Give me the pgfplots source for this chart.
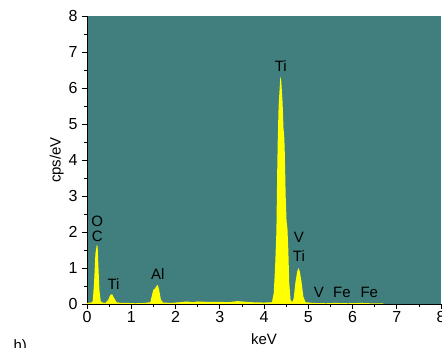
\documentclass[border=0pt]{standalone}
\usepackage{pgfplots}
\pgfplotsset{compat=1.18}
\usepackage{fontspec}
\setmainfont{Liberation Sans}
\definecolor{bgteal}{RGB}{64,127,125}
\definecolor{spec}{RGB}{255,255,0}
\begin{document}
\begin{tikzpicture}[x=1pt,y=1pt]
\begin{axis}[
  at={(0,0)}, anchor=origin,
  scale only axis, width=354pt, height=288pt,
  xmin=0, xmax=8, ymin=0, ymax=8,
  axis x line*=bottom, axis y line*=left,
  axis line style={black, -},
  axis background/.style={fill=bgteal},
  xtick={0,1,...,8}, ytick={0,1,...,8},
  minor x tick num=1, minor y tick num=1,
  tick align=outside,
  major tick length=5pt, minor tick length=3pt,
  tick style={black, line width=0.6pt},
  /pgf/number format/assume math mode=true,
  tick label style={font=\fontsize{16}{18}\selectfont},
  xticklabel style={yshift=1pt},
  yticklabel style={xshift=-1pt},
  xlabel={keV}, ylabel={cps/eV},
  label style={font=\fontsize{15}{17}\selectfont},
  xlabel style={yshift=-4pt},
  ylabel style={yshift=-2pt},
  clip=false,
]
\addplot[fill=spec, draw=none] coordinates {
(0,0.03) (0.1,0.04) (0.13,0.08) (0.16,0.6) (0.19,1.4) (0.22,1.64) (0.24,1.6) (0.26,1.0) (0.28,0.4) (0.31,0.08) (0.35,0.04) (0.42,0.03) (0.48,0.12) (0.53,0.26) (0.57,0.27) (0.62,0.15) (0.67,0.05) (0.75,0.03) (0.9,0.03) (1.1,0.02) (1.3,0.03) (1.43,0.05) (1.47,0.25) (1.5,0.4) (1.53,0.42) (1.57,0.5) (1.6,0.53) (1.63,0.4) (1.67,0.12) (1.72,0.04) (1.9,0.03) (2.1,0.05) (2.25,0.07) (2.4,0.05) (2.5,0.07) (2.7,0.06) (3.0,0.06) (3.2,0.05) (3.4,0.08) (3.5,0.07) (3.7,0.05) (4.0,0.04) (4.18,0.05) (4.22,0.3) (4.25,1.0) (4.28,2.0) (4.30,3.8) (4.31,4.5) (4.33,5.5) (4.37,6.32) (4.39,6.2) (4.42,5.6) (4.44,4.9) (4.46,4.6) (4.47,4.2) (4.49,3.0) (4.51,2.3) (4.53,2.1) (4.55,1.5) (4.57,0.6) (4.60,0.12) (4.64,0.05) (4.67,0.15) (4.71,0.6) (4.75,0.9) (4.78,1.0) (4.81,0.9) (4.85,0.6) (4.89,0.2) (4.94,0.05) (5.1,0.03) (5.4,0.02) (5.6,0.03) (5.9,0.02) (6.2,0.03) (6.4,0.02) (6.7,0.02)
} \closedcycle;
\begin{scope}[every node/.style={font=\fontsize{15}{17}\selectfont, inner sep=0pt}]
\node at (axis cs:4.38,6.6) {Ti};
\node at (axis cs:0.23,2.3) {O};
\node at (axis cs:0.23,1.88) {C};
\node at (axis cs:0.6,0.55) {Ti};
\node at (axis cs:1.6,0.83) {Al};
\node at (axis cs:4.79,1.85) {V};
\node at (axis cs:4.79,1.33) {Ti};
\node at (axis cs:5.24,0.31) {V};
\node at (axis cs:5.76,0.31) {Fe};
\node at (axis cs:6.38,0.31) {Fe};
\end{scope}
\end{axis}
\node[font=\fontsize{15}{17}\selectfont, anchor=west] at (-77pt,-43pt) {h)};
\pgfresetboundingbox
\path (-87pt,-44pt) rectangle (355pt,304pt);
\end{tikzpicture}
\end{document}
